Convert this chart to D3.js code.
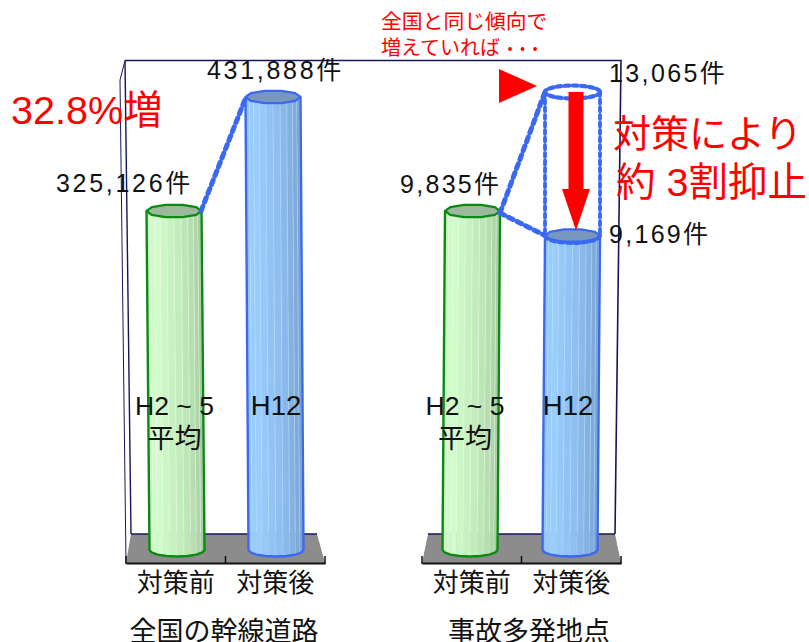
<!DOCTYPE html>
<html lang="ja">
<head>
<meta charset="utf-8">
<style>
  html, body { margin: 0; padding: 0; background: #fff; }
  text { font-family: "Liberation Sans", "Noto Sans CJK JP", sans-serif; }
</style>
</head>
<body>
<svg id="chart" width="809" height="642"></svg>
<script src="https://cdn.jsdelivr.net/npm/d3@7"></script>
<script>
// Values
const categories = ["対策前", "対策後"];
const regions = ["全国の幹線道路", "事故多発地点"];
const nationalCounts = [325126, 431888];
const hotspotCounts = [9835, 9169];
const hotspotProjected = 13065;
const periodLabels = [["H2 ~ 5", "平均"], ["H12"]];
const valueLabels = ["325,126件", "431,888件", "9,835件", "9,169件", "13,065件"];

const svg = d3.select("#chart");
const BLUE = "#3a68f2", RED = "#ff0000", NAVY = "#16165e";
const floorBack = 534, floorFront = 563, barFoot = 550, ry = 6.5;

// Each group has its own scale, both share the plot's vertical extent
const yNational = d3.scaleLinear().domain([325126, 431888]).range([211, 97]);
const yHotspot = d3.scaleLinear().domain([9835, 13065]).range([211, 92]);

const panels = [
  { name: regions[0], y: yNational, values: nationalCounts,
    axis: [126, 325], back: [131, 317], lean: 3, topX: [174, 273], nameX: 224 },
  { name: regions[1], y: yHotspot, values: hotspotCounts,
    axis: [422, 621], back: [428, 615], lean: -2.5, topX: [472.5, 572.5], nameX: 529 }
];

const palette = [
  { light: "#d4fdcd", mid: "#bfe9b9", dark: "#9dbf99", stroke: "#0b8a12", cap: "#9db99d" },
  { light: "#9dcffe", mid: "#8cbaec", dark: "#7399c4", stroke: BLUE, cap: "#7797bf" }
];

// Walls of the plot box
const walls = svg.append("g").attr("fill", "none").attr("stroke", NAVY);
walls.append("path").attr("stroke-width", 1.6).attr("d", "M125,60.5 L621,60.5 L615,534");
walls.append("path").attr("stroke-width", 1.4).attr("d", "M125,60.5 L131,534");
walls.append("path").attr("stroke-width", 1).attr("d", "M125,60.5 L120,80 L126,563");

// Floor slabs and category axes
panels.forEach(p => {
  svg.append("path")
    .attr("fill", "#8c8c8c")
    .attr("d", d3.line()([[p.back[0], floorBack], [p.back[1], floorBack], [p.axis[1], floorFront], [p.axis[0], floorFront]]) + "Z");
  svg.append("path").attr("fill", "none").attr("stroke", NAVY).attr("stroke-width", 1.5)
    .attr("d", `M${p.back[0]},${floorBack} H${p.back[1]}`);

  const x = d3.scaleBand().domain(categories).range(p.axis);
  const axis = svg.append("g").attr("transform", `translate(0,${floorFront})`)
    .call(d3.axisBottom(x).tickSize(0).tickPadding(9));
  axis.select(".domain").attr("stroke", "#111").attr("stroke-width", 2);
  axis.selectAll("text").attr("font-size", 26).attr("fill", "#111").attr("dy", "0.78em");
  axis.selectAll(".edge").data([p.axis[0], x(categories[1]), p.axis[1]]).join("line")
    .attr("class", "edge").attr("x1", d => d).attr("x2", d => d)
    .attr("y1", -7).attr("y2", 1).attr("stroke", "#111").attr("stroke-width", 1.5);

  svg.append("text").attr("x", p.nameX).attr("y", 641).attr("text-anchor", "middle")
    .attr("font-size", 27).attr("fill", "#111").text(p.name);
});

// Faceted cylinder, lit from the left
function cylinder(cxTop, cxFoot, yTop, rx, colors) {
  const g = svg.append("g");
  const n = 12;
  const shade = d3.scaleLinear().domain([0, 0.25, 0.6, 1])
    .range([colors.mid, colors.light, colors.mid, colors.dark]);
  const rim = a => ry * Math.sin(a);
  d3.range(n).forEach(i => {
    const a0 = Math.PI * (1 - i / n), a1 = Math.PI * (1 - (i + 1) / n);
    g.append("path")
      .attr("fill", shade((i + 0.5) / n))
      .attr("stroke", d3.color(colors.light).brighter(0.3))
      .attr("stroke-opacity", 0.45).attr("stroke-width", 0.7)
      .attr("d", d3.line()([
        [cxTop + rx * Math.cos(a0), yTop + rim(a0)],
        [cxTop + rx * Math.cos(a1), yTop + rim(a1)],
        [cxFoot + rx * Math.cos(a1), barFoot + rim(a1)],
        [cxFoot + rx * Math.cos(a0), barFoot + rim(a0)]
      ]) + "Z");
  });
  // Silhouette with a coarse, many-sided foot
  const foot = d3.range(9).map(i => {
    const a = Math.PI * (1 - i / 8);
    return [cxFoot + rx * Math.cos(a), barFoot + rim(a)];
  });
  g.append("path").attr("fill", "none").attr("stroke", colors.stroke).attr("stroke-width", 2.4)
    .attr("stroke-linejoin", "round")
    .attr("d", d3.line()([[cxTop - rx, yTop], ...foot, [cxTop + rx, yTop]]));
  // Cap
  g.append("path").attr("fill", colors.cap).attr("stroke", colors.stroke).attr("stroke-width", 2.2)
    .attr("stroke-linejoin", "round").attr("d", capPath(cxTop, yTop, rx));
}
function capPath(cx, cy, rx) {
  return d3.line()(d3.range(10).map(i => {
    const a = 2 * Math.PI * i / 10;
    return [cx + rx * Math.cos(a), cy + ry * Math.sin(a)];
  })) + "Z";
}

panels.forEach(p => {
  p.values.forEach((v, i) => {
    cylinder(p.topX[i], p.topX[i] + p.lean, p.y(v), 27.5, palette[i]);
  });
});

// Dashed trend links and the projected outline
const dashed = svg.append("g").attr("fill", "none").attr("stroke", BLUE)
  .attr("stroke-linecap", "round").attr("stroke-linejoin", "round");
const link = (a, b) => dashed.append("path").attr("stroke-width", 5)
  .attr("stroke-dasharray", "5 4.5").attr("d", d3.line()([a, b]));

const [nx0, nx1] = panels[0].topX;
link([nx0 + 27, yNational(nationalCounts[0])], [nx1 - 27, yNational(nationalCounts[1])]);

const [hx0, hx1] = panels[1].topX;
const yPast = yHotspot(hotspotCounts[0]);
const yNow = yHotspot(hotspotCounts[1]);
const yProj = yHotspot(hotspotProjected);
link([hx0 + 27.5, yPast + 2], [hx1 - 27.5, yProj]);
link([hx0 + 27.5, yPast + 2], [hx1 - 27.5, yNow]);

// Red arrow from the projection down to the observed value
const arrow = svg.append("path").attr("fill", RED);
const ax = hx1 + 3.5;
arrow.attr("d", d3.line()([
  [ax - 7.5, yProj], [ax + 7.5, yProj], [ax + 7.5, 189], [ax + 14, 189],
  [ax, yNow - 5], [ax - 14, 189], [ax - 7.5, 189]
]) + "Z");

dashed.append("ellipse").attr("cx", hx1).attr("cy", yProj).attr("rx", 27.5).attr("ry", ry)
  .attr("stroke-width", 4.2).attr("stroke-dasharray", "4.5 3.5");
dashed.append("path").attr("stroke-width", 3.8).attr("stroke-dasharray", "4 3.6")
  .attr("d", `M${hx1 - 27.5},${yProj} V${yNow} M${hx1 + 27.5},${yProj} V${yNow}`);
dashed.append("path").attr("stroke-width", 4).attr("stroke-dasharray", "4.5 3.5")
  .attr("d", `M${hx1 - 27.5},${yNow} A27.5,${ry + 1} 0 0 0 ${hx1 + 27.5},${yNow}`);

// Pointer beside the projection
svg.append("path").attr("fill", RED)
  .attr("d", d3.line()([[499, 69], [537, yProj - 6], [499, 103]]) + "Z");

// Text helper
const label = (x, y, s, size, fill, anchor, spacing) => svg.append("text")
  .attr("x", x).attr("y", y).attr("font-size", size).attr("fill", fill)
  .attr("text-anchor", anchor || "start").attr("letter-spacing", spacing || 0).text(s);

// Value labels
label(56, 192, valueLabels[0], 25, "#111", "start", 2.7);
label(207, 79, valueLabels[1], 25, "#111", "start", 2.7);
label(400, 193, valueLabels[2], 25, "#111", "start", 2.3);
label(609, 243, valueLabels[3], 25, "#111", "start", 2.3);
label(609, 82, valueLabels[4], 25, "#111", "start", 2.4);

// Period captions on the bars
[[174.5, 276], [465, 568]].forEach(([a, b]) => {
  label(a, 415, periodLabels[0][0], 26.5, "#111", "middle");
  label(a, 448, periodLabels[0][1], 27, "#111", "middle");
  label(b, 415, periodLabels[1][0], 27.5, "#111", "middle");
});

// Annotations
label(11, 124, "32.8%増", 39.5, RED);
label(613, 147, "対策により", 38, RED);
label(616, 196, "約 3割抑止", 39.5, RED);
label(381, 29, "全国と同じ傾向で", 20.8, RED);
label(381, 55, "増えていれば", 20, RED);
svg.append("g").attr("fill", RED).selectAll("circle").data([0, 1, 2]).join("circle")
  .attr("cx", i => 510 + i * 12.5).attr("cy", 49).attr("r", 1.9);
</script>
</body>
</html>
